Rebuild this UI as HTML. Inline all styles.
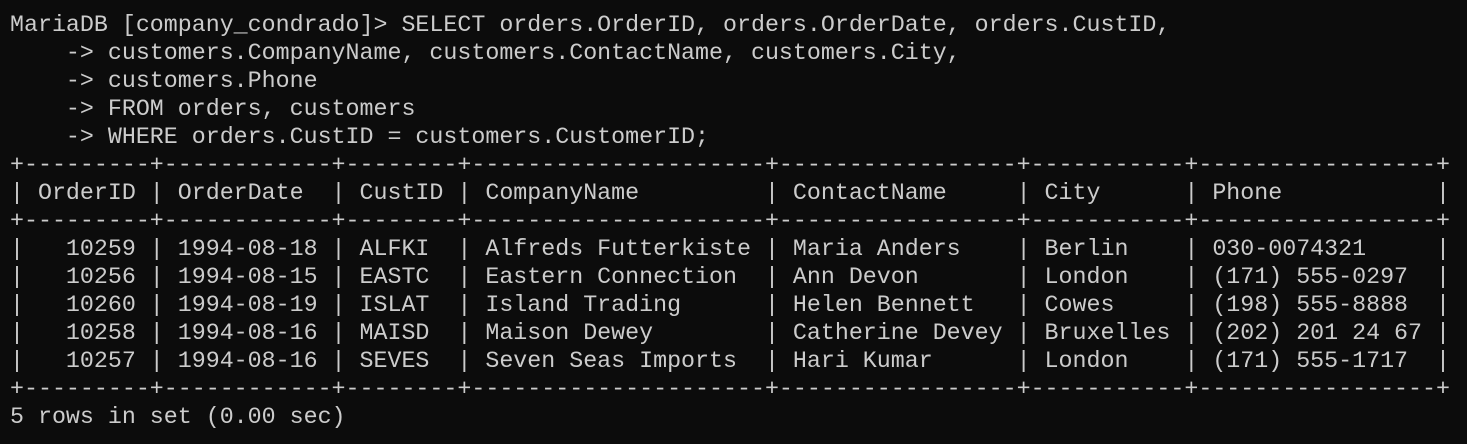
<!DOCTYPE html>
<html><head><meta charset="utf-8"><style>
html,body{margin:0;padding:0;background:#0c0c0c;width:1467px;height:444px;overflow:hidden}
pre{position:absolute;left:10px;top:11px;margin:0;font-family:"Liberation Mono",monospace;font-size:23.3px;line-height:28px;color:#cccccc;white-space:pre}
</style></head><body><pre>MariaDB [company_condrado]&gt; SELECT orders.OrderID, orders.OrderDate, orders.CustID,
    -&gt; customers.CompanyName, customers.ContactName, customers.City,
    -&gt; customers.Phone
    -&gt; FROM orders, customers
    -&gt; WHERE orders.CustID = customers.CustomerID;
+---------+------------+--------+---------------------+-----------------+-----------+-----------------+
| OrderID | OrderDate  | CustID | CompanyName         | ContactName     | City      | Phone           |
+---------+------------+--------+---------------------+-----------------+-----------+-----------------+
|   10259 | 1994-08-18 | ALFKI  | Alfreds Futterkiste | Maria Anders    | Berlin    | 030-0074321     |
|   10256 | 1994-08-15 | EASTC  | Eastern Connection  | Ann Devon       | London    | (171) 555-0297  |
|   10260 | 1994-08-19 | ISLAT  | Island Trading      | Helen Bennett   | Cowes     | (198) 555-8888  |
|   10258 | 1994-08-16 | MAISD  | Maison Dewey        | Catherine Devey | Bruxelles | (202) 201 24 67 |
|   10257 | 1994-08-16 | SEVES  | Seven Seas Imports  | Hari Kumar      | London    | (171) 555-1717  |
+---------+------------+--------+---------------------+-----------------+-----------+-----------------+
5 rows in set (0.00 sec)</pre></body></html>
